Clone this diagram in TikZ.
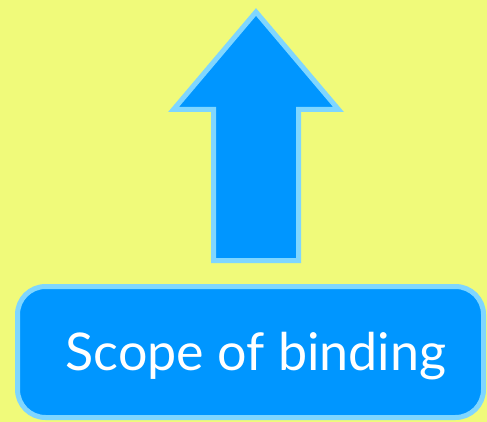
\documentclass[tikz,border=0pt]{standalone}
\usepackage{fontspec}
\setsansfont{Lato}
\usepackage{tikz}
\usetikzlibrary{positioning}
\definecolor{BgYellow}{HTML}{F0FA7A}
\definecolor{BlueFill}{HTML}{0096FF}
\definecolor{BlueEdge}{HTML}{7FD6FF}
\tikzset{
  bx/.style={rectangle, rounded corners=28pt, fill=BlueFill, draw=BlueEdge, line width=5pt,
             minimum width=466pt, minimum height=131pt, text=white,
             font=\fontsize{52}{60}\selectfont\sffamily, text height=37pt, text depth=0pt},
  uparr/.style={fill=BlueFill, draw=BlueEdge, line width=5pt, line join=miter},
}

\begin{document}
\begin{tikzpicture}[x=1pt, y=-1pt]

  % Background
  \fill[BgYellow] (0,0) rectangle (487,422);
  \useasboundingbox (0,0) rectangle (487,422);

  % Arrow
  \coordinate (tip) at (256,12);
  \draw[uparr] (tip) -- (338.5,109.5) -- (298.5,109.5) -- (298.5,260.5)
    -- (213.5,260.5) -- (213.5,109.5) -- (173.5,109.5) -- cycle;

  % Box
  \node[bx] (scope) at (250.5,352) {\hspace*{11pt}Scope of binding};

\end{tikzpicture}
\end{document}
